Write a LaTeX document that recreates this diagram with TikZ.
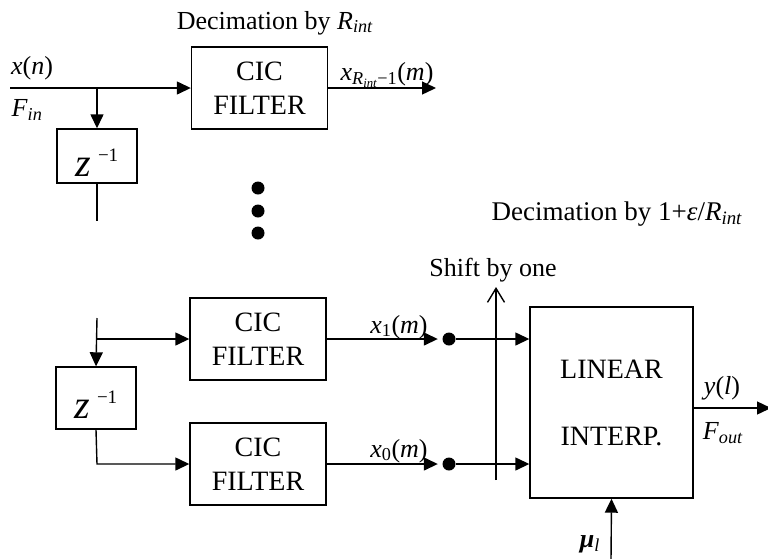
\documentclass[tikz,border=0pt]{standalone}
\usepackage{fontspec}
\setmainfont{Liberation Serif}
\usetikzlibrary{arrows.meta}
\newcommand{\vi}[1]{\textit{#1}}
\newcommand{\lsub}[1]{\textsubscript{\textit{#1}}}
\newcommand{\zinv}{\fontsize{40}{40}\selectfont\textit{z}\,\raisebox{15pt}{\fontsize{19}{19}\selectfont −1}}

\begin{document}
\begin{tikzpicture}[x=1pt, y=-1pt, line width=1.4pt,
	block/.style={draw, minimum width=136pt, minimum height=82pt, inner sep=0pt, align=center, font=\fontsize{28}{34}\selectfont},
	delay/.style={draw, minimum width=80pt, inner sep=0pt, text height=40pt, text depth=0pt},
	sig/.style={inner sep=0pt, font=\fontsize{26}{30}\selectfont},
	dot/.style={circle, fill, inner sep=0pt, minimum size=13pt},
	arr/.style={-{Triangle[length=14pt, width=13pt]}}]
	\useasboundingbox (0, 0) rectangle (768, 558);

	% top branch
	\node[block] (cictop) at (259.5, 88) {CIC\\FILTER};
	\node[delay, minimum height=54pt] (ztop) at (97, 156) {\zinv};
	\coordinate (in) at (10, 88);
	\coordinate (tapt) at (97, 88);
	\coordinate (zend) at (97, 221);
	\coordinate (xout) at (436, 88);
	\draw[arr] (in) -- (cictop.west);
	\draw[arr] (tapt) -- (ztop.north);
	\draw (ztop.south) -- (zend);
	\draw[arr] (cictop.east) -- (xout);
	\node[sig] (xn) at (32, 68) {\vi{x}(\vi{n})};
	\node[sig] (fin) at (27, 110) {\vi{F}\lsub{in}};
	\node[sig] (xr) at (387, 75) {\vi{x}\textsubscript{\vi{R}\textsubscript{\vi{int}}−1}(\vi{m})};
	\node[sig] (dec1) at (275, 23) {Decimation by \vi{R}\lsub{int}};

	% dots
	\foreach \y in {188, 211, 233}
		\node[dot] at (258, \y) {};

	% bottom branches
	\node[block] (cic1) at (258, 339) {CIC\\FILTER};
	\node[block] (cic0) at (258, 464) {CIC\\FILTER};
	\node[delay, minimum height=62pt] (zbot) at (96, 398) {\zinv};
	\coordinate (tapb) at (97, 318);
	\coordinate (bend) at (97, 464);
	\draw[arr] (tapb) -- (zbot.north);
	\draw[arr] (tapb |- cic1.west) -- (cic1.west);
	\draw[arr] (zbot.south) -- (bend) -- (cic0.west);

	\node[dot] (d1) at (449, 339) {};
	\node[dot] (d0) at (449, 464) {};
	\draw[arr, shorten >=4pt] (cic1.east) -- (d1);
	\draw[arr, shorten >=4pt] (cic0.east) -- (d0);
	\node[sig] (x1) at (399, 327) {\vi{x}\textsubscript{1}(\vi{m})};
	\node[sig] (x0) at (399, 451) {\vi{x}\textsubscript{0}(\vi{m})};

	% interpolator
	\node[draw, minimum width=163pt, minimum height=191pt, inner sep=0pt, align=center,
		font=\fontsize{28}{67}\selectfont] (lin) at (611.5, 402.5) {LINEAR\\INTERP.};
	\draw[arr] (d1) -- (lin.west |- d1);
	\draw[arr] (d0) -- (lin.west |- d0);

	\coordinate (sbot) at (496, 480);
	\coordinate (stop) at (496, 287);
	\draw[-{Straight Barb[length=14pt, width=17pt]}] (sbot) -- (stop);
	\node[sig] (shift) at (493, 270) {Shift by one};
	\node[sig, font=\fontsize{27}{30}\selectfont] (dec2) at (617, 214) {Decimation by 1+\vi{ε}/\vi{R}\lsub{int}};

	\coordinate (yout) at (771, 408);
	\coordinate (mu) at (611, 560);
	\draw[arr] (lin.east |- yout) -- (yout);
	\draw[arr] (mu) -- (lin.south);
	\node[sig] (yl) at (722, 388) {\vi{y}(\vi{l})};
	\node[sig] (fout) at (723, 433) {\vi{F}\lsub{out}};
	\node[sig] (mul) at (590, 544) {\textbf{\vi{μ}}\lsub{l}};
\end{tikzpicture}
\end{document}
